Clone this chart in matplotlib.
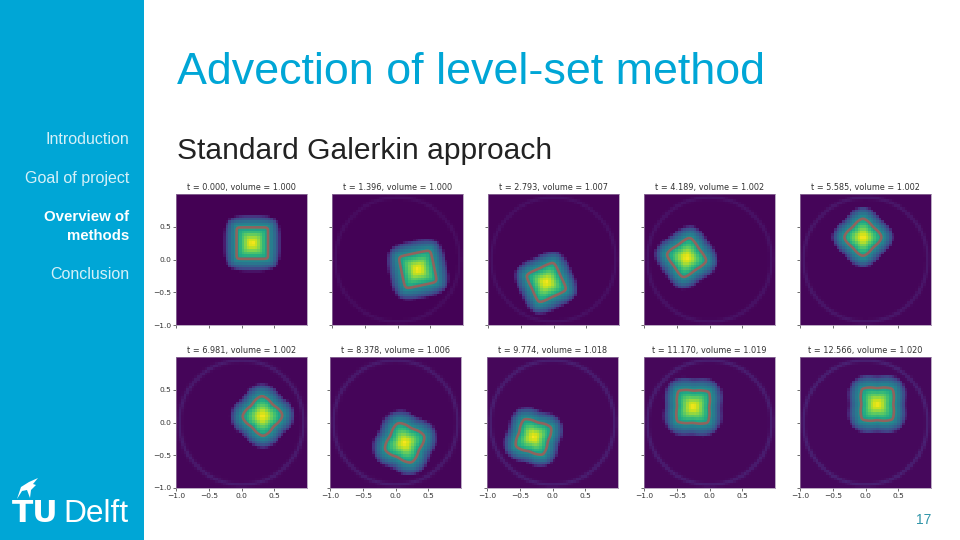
import matplotlib
matplotlib.use("Agg")
import matplotlib.pyplot as plt
import numpy as np
from matplotlib.patches import Polygon, Rectangle

plt.rcParams["font.family"] = ["Liberation Sans", "DejaVu Sans"]

BLUE = "#00A6D6"
W, H = 960, 540

# Readings per panel, left to right, top to bottom
times = ["0.000", "1.396", "2.793", "4.189", "5.585",
         "6.981", "8.378", "9.774", "11.170", "12.566"]
volumes = ["1.000", "1.000", "1.007", "1.002", "1.002",
           "1.002", "1.006", "1.018", "1.019", "1.020"]
centre_x = [0.165, 0.31, -0.11, -0.35, -0.04, 0.32, 0.14, -0.29, -0.25, 0.18]
centre_y = [0.25, -0.15, -0.35, 0.03, 0.34, 0.10, -0.31, -0.22, 0.24, 0.28]
angles = [0, 12, 25, 35, 45, 47, 64, 73, 88, 90]
half_width = [0.24, 0.25, 0.24, 0.235, 0.225, 0.24, 0.25, 0.235, 0.25, 0.25]
sharpness = [14, 10, 9, 8, 7, 7, 7, 9, 10, 10]
wobble = [0, 0, 0.005, 0.008, 0.012, 0.018, 0.018, 0.018, 0.015, 0.018]
ring_level = [0, 0.03, 0.035, 0.04, 0.05, 0.06, 0.06, 0.065, 0.065, 0.07]
floor_level = [0, 0.005, 0.008, 0.01, 0.012, 0.015, 0.015, 0.018, 0.018, 0.02]

# Colour bands against distance from the centre of the square (t = 0 panel)
profile_r = [0, 0.07, 0.14, 0.24, 0.33, 0.40, 0.44]
profile_v = [1.0, 0.90, 0.74, 0.52, 0.36, 0.20, 0.0]
contour_level = 0.52

panel_left = [[176, 332, 488, 644, 800], [176, 330, 487, 644, 800]]
panel_top = [194, 357]
panel_size = 131

sidebar_items = [("Introduction", 144, "normal"), ("Goal of project", 183, "normal"),
                 ("Overview of", 221, "bold"), ("methods", 240, "bold"),
                 ("Conclusion", 279, "normal")]


def px_axes(fig, left, top, width, height):
    return fig.add_axes([left / W, 1 - (top + height) / H, width / W, height / H])


def panel_field(i, x, y):
    a = np.radians(angles[i])
    dx, dy = x - centre_x[i], y - centre_y[i]
    u = dx * np.cos(a) + dy * np.sin(a)
    v = -dx * np.sin(a) + dy * np.cos(a)
    p = sharpness[i]
    sharp = (np.abs(u) ** p + np.abs(v) ** p) ** (1 / p)
    round_ = (np.abs(u) ** 3.5 + np.abs(v) ** 3.5) ** (1 / 3.5)
    # corners are crisp at the red line and rounder away from it
    blend = np.clip(np.abs(sharp - 0.24) / 0.16, 0, 1)
    r = sharp * (1 - blend) + round_ * blend
    r = r * (1 + wobble[i] * np.cos(8 * np.arctan2(v, u)))
    r = r * 0.24 / half_width[i]
    field = np.interp(r, profile_r, profile_v)
    ring = ring_level[i] * np.exp(-((np.hypot(x, y) - 0.95) / 0.03) ** 2)
    return np.maximum(field, ring + floor_level[i])


fig = plt.figure(figsize=(W / 100, H / 100), dpi=100, facecolor="white")

back = fig.add_axes([0, 0, 1, 1])
back.set_xlim(0, W)
back.set_ylim(H, 0)
back.axis("off")
back.add_patch(Rectangle((0, 0), 144, H, color=BLUE, lw=0))

back.text(177, 72, "Advection of level-set method", color=BLUE, fontsize=32.3,
          ha="left", va="center")
back.text(177, 151, "Standard Galerkin approach", color="#222222", fontsize=21.6,
          ha="left", va="center")
back.text(931, 520, "17", color="#2f94a8", fontsize=10, ha="right", va="center")

for label, y, weight in sidebar_items:
    colour = "white" if weight == "bold" else "#d5f0f8"
    back.text(129.5, y, label, color=colour, fontsize=11.5 if weight == "normal" else 10.8,
              fontweight=weight, ha="right", va="baseline")

# Logo
back.text(12, 522, "TU", color="white", fontsize=22.5, fontweight="bold", ha="left",
          va="baseline", family="DejaVu Sans")
back.text(63, 522, "Delft", color="white", fontsize=22.8, ha="left", va="baseline")
back.add_patch(Polygon([(17, 499), (21, 487), (29, 482), (38, 478), (33, 484), (36, 485),
                        (31, 490), (30, 498), (27, 490), (22, 491)], color="white", lw=0))

grid = np.linspace(-1, 1, 51)
cells_x, cells_y = np.meshgrid((grid[:-1] + grid[1:]) / 2, (grid[:-1] + grid[1:]) / 2)
fine = np.linspace(-1, 1, 301)
fine_x, fine_y = np.meshgrid(fine, fine)

for i in range(10):
    row, col = divmod(i, 5)
    ax = px_axes(fig, panel_left[row][col], panel_top[row], panel_size, panel_size)
    ax.pcolormesh(grid, grid, panel_field(i, cells_x, cells_y), cmap="viridis",
                  vmin=0, vmax=1, shading="flat", rasterized=True)
    ax.contour(fine, fine, panel_field(i, fine_x, fine_y), levels=[contour_level],
               colors="#b5544f", linewidths=1.9, alpha=0.75)
    ax.set_xlim(-1, 1)
    ax.set_ylim(-1, 1)
    ax.set_aspect("equal")
    ax.set_title("t = %s, volume = %s" % (times[i], volumes[i]), fontsize=5.9, pad=3.2,
                 family="DejaVu Sans", color="#333333")
    ax.set_xticks([-1, -0.5, 0, 0.5])
    ax.set_yticks([-1, -0.5, 0, 0.5])
    ax.tick_params(length=2, width=0.5, labelsize=5.4, pad=1.5, colors="#333333")
    ax.tick_params(labelbottom=row == 1, labelleft=col == 0)
    for label in ax.get_xticklabels() + ax.get_yticklabels():
        label.set_family("DejaVu Sans")
    for spine in ax.spines.values():
        spine.set_linewidth(0.5)
        spine.set_color("#9d86a8")

fig.savefig("out.png", dpi=100, facecolor="white")
